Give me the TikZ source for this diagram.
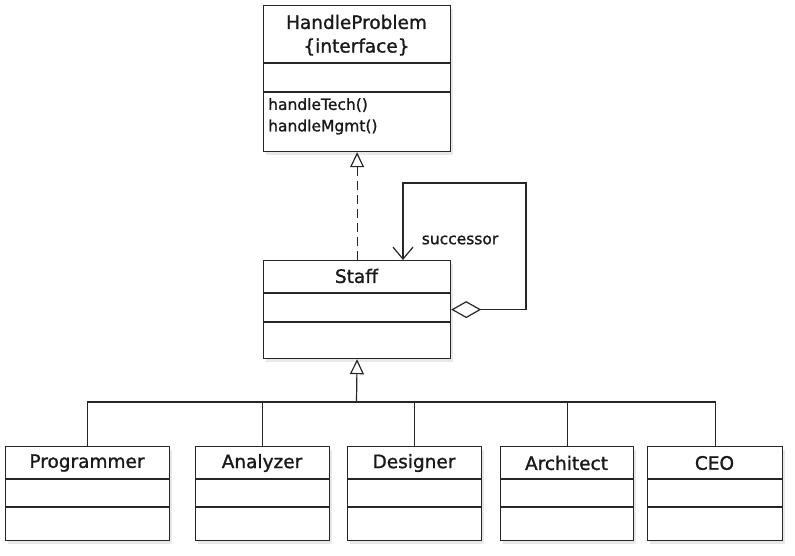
\documentclass[tikz,border=0pt]{standalone}
\usepackage{fontspec}
\setmainfont{DejaVu Sans}
\newfontfamily\umlfont[FakeBold=1.2]{DejaVu Sans}
\usetikzlibrary{arrows.meta,shadows}
\tikzset{
  cls/.style={draw=black!85, line width=1.2pt, fill=white, rectangle, anchor=north west, inner sep=0pt,
    drop shadow={opacity=0.18, shadow xshift=2pt, shadow yshift=-3pt}},
  ttl/.style={font=\umlfont\fontsize{18.5}{20}\selectfont, inner sep=0pt, text=black!90},
  opx/.style={font=\umlfont\fontsize{15.5}{17}\selectfont, inner sep=0pt, anchor=west, text=black!90},
  sepl/.style={line width=1.2pt, draw=black!85},
  conn/.style={line width=1.2pt, draw=black!85},
}
\begin{document}
\begin{tikzpicture}[x=1pt,y=-1pt]
\useasboundingbox (0,0) rectangle (795,555);
% HandleProblem
\node[cls, minimum width=187pt, minimum height=146pt] (hp) at (263,5) {};
\draw[sepl] (263,63) -- (450,63);
\draw[sepl] (263,92) -- (450,92);
\node[ttl] (hpT) at (356.5,22) {HandleProblem};
\node[ttl] (hpS) at (356.5,47) {\{interface\}};
\node[opx] (op1) at (268,105) {handleTech()};
\node[opx] (op2) at (268,127) {handleMgmt()};
% Staff
\node[cls, minimum width=187pt, minimum height=98pt] (staff) at (263,260) {};
\draw[sepl] (263,293) -- (450,293);
\draw[sepl] (263,322) -- (450,322);
\node[ttl] (staffT) at (356.5,276) {Staff};
% children
\foreach \nm/\xa/\xb/\lab in {prog/5/169/Programmer, anal/195/329/Analyzer, desi/347/481/Designer, arch/500/633/Architect, ceo/647/782/CEO}{
  \pgfmathsetmacro{\w}{\xb-\xa}
  \pgfmathsetmacro{\cx}{(\xa+\xb)/2}
  \node[cls, minimum width=\w pt, minimum height=94pt] (\nm) at (\xa,446) {};
  \draw[sepl] (\xa,479) -- (\xb,479);
  \draw[sepl] (\xa,507) -- (\xb,507);
  \node[ttl] (\nm T) at (\cx,463) {\lab};
}
% realization
\draw[conn, dash pattern=on 9pt off 5pt, -{Triangle[open, length=15pt, width=14pt, line width=1.2pt]}] (staff.north) -- (hp.south);
% generalization
\coordinate (bus) at (356.5,402);
\foreach \nm in {prog,anal,desi,arch,ceo}{
  \draw[conn] (\nm.north) |- (bus);
}
\draw[conn, -{Triangle[open, length=15pt, width=14pt, line width=1.2pt]}] (bus) -- (staff.south);
% self association
\coordinate (c1) at (526,183);
\coordinate (c2) at (403,183);
\draw[conn, {Diamond[open, length=30pt, width=17pt, line width=1.2pt]}-{Straight Barb[length=12pt, width=20pt, line width=1.2pt]}] (staff.east) -| (c1) -- (c2) -- (c2 |- staff.north);
\node[opx, anchor=center] (succ) at (460,240) {successor};
\end{tikzpicture}
\end{document}
